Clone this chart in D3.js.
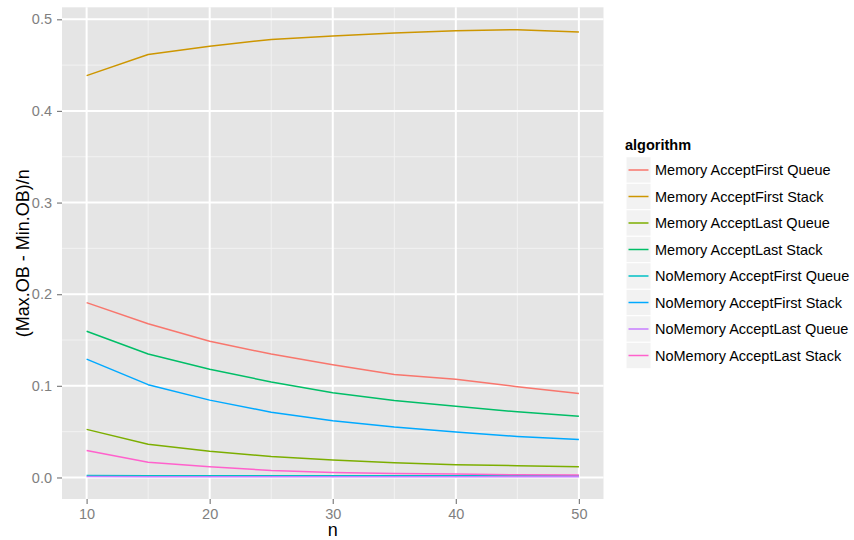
<!DOCTYPE html>
<html>
<head>
<meta charset="utf-8">
<script src="https://cdn.jsdelivr.net/npm/d3@7"></script>
<style>
html,body{margin:0;padding:0;background:#fff;}
svg{display:block;font-family:"Liberation Sans",Arial,Helvetica,sans-serif;}
</style>
</head>
<body>
<svg id="chart" width="854" height="540"></svg>
<script>
// ---- data ----
const nValues = [10, 15, 20, 25, 30, 35, 40, 45, 50];
const algorithms = [
  "Memory AcceptFirst Queue",
  "Memory AcceptFirst Stack",
  "Memory AcceptLast Queue",
  "Memory AcceptLast Stack",
  "NoMemory AcceptFirst Queue",
  "NoMemory AcceptFirst Stack",
  "NoMemory AcceptLast Queue",
  "NoMemory AcceptLast Stack"
];
const memAcceptFirstQueue   = [0.1908, 0.1677, 0.1486, 0.1347, 0.1229, 0.1123, 0.1072, 0.0991, 0.0917];
const memAcceptFirstStack   = [0.4385, 0.4616, 0.4707, 0.4780, 0.4817, 0.4850, 0.4876, 0.4887, 0.4861];
const memAcceptLastQueue    = [0.0525, 0.0363, 0.0286, 0.0228, 0.0191, 0.0161, 0.0139, 0.0128, 0.0117];
const memAcceptLastStack    = [0.1596, 0.1347, 0.1182, 0.1042, 0.0925, 0.0840, 0.0778, 0.0716, 0.0668];
const noMemAcceptFirstQueue = [0.0022, 0.0020, 0.0020, 0.0019, 0.0019, 0.0019, 0.0019, 0.0019, 0.0019];
const noMemAcceptFirstStack = [0.1292, 0.1013, 0.0844, 0.0712, 0.0620, 0.0550, 0.0495, 0.0448, 0.0415];
const noMemAcceptLastQueue  = [0.0010, 0.0009, 0.0009, 0.0009, 0.0009, 0.0009, 0.0009, 0.0009, 0.0009];
const noMemAcceptLastStack  = [0.0294, 0.0165, 0.0117, 0.0077, 0.0055, 0.0044, 0.0037, 0.0030, 0.0026];
const seriesValues = [memAcceptFirstQueue, memAcceptFirstStack, memAcceptLastQueue, memAcceptLastStack,
                      noMemAcceptFirstQueue, noMemAcceptFirstStack, noMemAcceptLastQueue, noMemAcceptLastStack];
const colors = ["#F8766D", "#CD9600", "#7CAE00", "#00BE67", "#00BFC4", "#00A9FF", "#C77CFF", "#FF61CC"];
const xTicks = [10, 20, 30, 40, 50];
const xMinor = [15, 25, 35, 45];
const yTicks = [0.0, 0.1, 0.2, 0.3, 0.4, 0.5];
const yMinor = [0.05, 0.15, 0.25, 0.35, 0.45];
const xTitle = "n";
const yTitle = "(Max.OB - Min.OB)/n";
const legendTitle = "algorithm";

// ---- layout ----
const svg = d3.select("#chart");
const panel = {left: 62, right: 603.5, top: 7.3, bottom: 499};

const xExt = d3.extent(nValues);
const xPad = (xExt[1] - xExt[0]) * 0.05;
const x = d3.scaleLinear().domain([xExt[0] - xPad, xExt[1] + xPad]).range([panel.left, panel.right]);

const allVals = seriesValues.flat();
const yExt = d3.extent(allVals);
const yPad = (yExt[1] - yExt[0]) * 0.05;
const y = d3.scaleLinear().domain([yExt[0] - yPad, yExt[1] + yPad]).range([panel.bottom, panel.top]);

// panel background
svg.append("rect")
  .attr("x", panel.left).attr("y", panel.top)
  .attr("width", panel.right - panel.left).attr("height", panel.bottom - panel.top)
  .attr("fill", "#E5E5E5");

const grid = svg.append("g");
grid.selectAll(".ymin").data(yMinor).enter().append("line")
  .attr("x1", panel.left).attr("x2", panel.right)
  .attr("y1", d => y(d)).attr("y2", d => y(d))
  .attr("stroke", "#F2F2F2").attr("stroke-width", 1);
grid.selectAll(".xmin").data(xMinor).enter().append("line")
  .attr("y1", panel.top).attr("y2", panel.bottom)
  .attr("x1", d => x(d)).attr("x2", d => x(d))
  .attr("stroke", "#F2F2F2").attr("stroke-width", 1);
grid.selectAll(".ymaj").data(yTicks).enter().append("line")
  .attr("x1", panel.left).attr("x2", panel.right)
  .attr("y1", d => y(d)).attr("y2", d => y(d))
  .attr("stroke", "#FFFFFF").attr("stroke-width", 2);
grid.selectAll(".xmaj").data(xTicks).enter().append("line")
  .attr("y1", panel.top).attr("y2", panel.bottom)
  .attr("x1", d => x(d)).attr("x2", d => x(d))
  .attr("stroke", "#FFFFFF").attr("stroke-width", 2);

// lines
const line = d3.line().x((d, i) => x(nValues[i])).y(d => y(d));
svg.append("g").selectAll("path").data(seriesValues).enter().append("path")
  .attr("d", d => line(d))
  .attr("fill", "none")
  .attr("stroke", (d, i) => colors[i])
  .attr("stroke-width", 1.5)
  .attr("stroke-linejoin", "round");

// axes
const xAxis = d3.axisBottom(x).tickValues(xTicks).tickSize(5).tickPadding(4).tickFormat(d3.format("d"));
const gx = svg.append("g").attr("transform", `translate(0,${panel.bottom})`).call(xAxis);
gx.select(".domain").remove();
gx.selectAll(".tick line").attr("stroke", "#7F7F7F").attr("stroke-width", 1.2);
gx.selectAll(".tick text").attr("fill", "#7F7F7F").attr("font-size", "14.5px")
  .attr("font-family", "Liberation Sans, Arial, sans-serif").attr("dy", "0.75em");

const yAxis = d3.axisLeft(y).tickValues(yTicks).tickSize(5).tickPadding(5).tickFormat(d3.format(".1f"));
const gy = svg.append("g").attr("transform", `translate(${panel.left},0)`).call(yAxis);
gy.select(".domain").remove();
gy.selectAll(".tick line").attr("stroke", "#7F7F7F").attr("stroke-width", 1.2);
gy.selectAll(".tick text").attr("fill", "#7F7F7F").attr("font-size", "14.5px")
  .attr("font-family", "Liberation Sans, Arial, sans-serif");

// titles
svg.append("text").attr("x", (panel.left + panel.right) / 2).attr("y", 536)
  .attr("text-anchor", "middle").attr("font-size", "18px").attr("fill", "#000").text(xTitle);
svg.append("text").attr("transform", `translate(29,${(panel.top + panel.bottom) / 2}) rotate(-90)`)
  .attr("text-anchor", "middle").attr("font-size", "18px").attr("fill", "#000").text(yTitle);

// legend
const lg = svg.append("g");
lg.append("text").attr("x", 625).attr("y", 150).attr("font-size", "14.5px")
  .attr("font-weight", "bold").attr("fill", "#000").text(legendTitle);
const rowH = 26.5, row0 = 170;
const items = lg.selectAll(".item").data(algorithms).enter().append("g")
  .attr("transform", (d, i) => `translate(0,${row0 + i * rowH})`);
items.append("rect").attr("x", 626).attr("y", -13.25).attr("width", 25).attr("height", 26.5)
  .attr("fill", "#F2F2F2").attr("stroke", "#FFFFFF").attr("stroke-width", 1);
items.append("line").attr("x1", 628.5).attr("x2", 648.5).attr("y1", 0).attr("y2", 0)
  .attr("stroke", (d, i) => colors[i]).attr("stroke-width", 1.5);
items.append("text").attr("x", 655).attr("y", 0).attr("dy", "0.36em")
  .attr("font-size", "14.5px").attr("fill", "#000").text(d => d);
</script>
</body>
</html>
